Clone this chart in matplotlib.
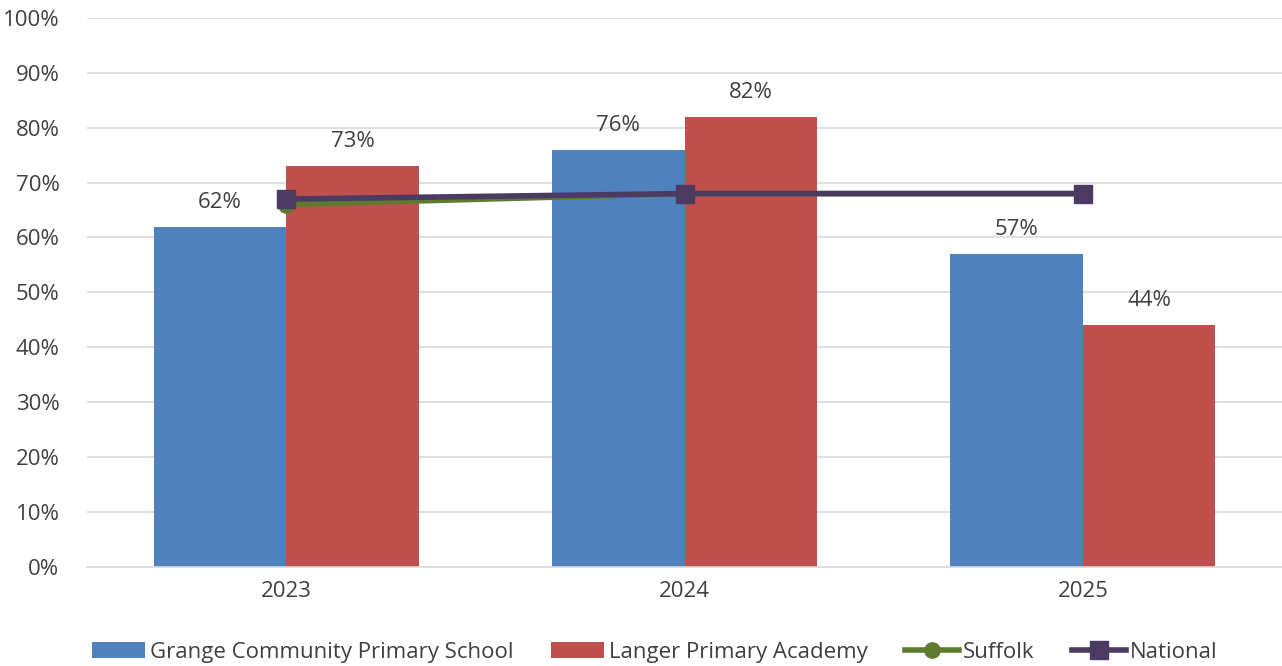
import numpy as np
import matplotlib
matplotlib.use("Agg")
import matplotlib.pyplot as plt
from matplotlib.ticker import PercentFormatter

years = ["2023", "2024", "2025"]
grange = [62, 76, 57]
langer = [73, 82, 44]
suffolk = [66, 68, 68]
national = [67, 68, 68]

plt.rcParams['font.family'] = ['Open Sans', 'DejaVu Sans']
text_col = '#404040'

fig = plt.figure(figsize=(12.82, 6.66), dpi=100)
ax = fig.add_axes([0.068, 0.149, 0.932, 0.824])

x = np.arange(len(years))
w = 0.333
b1 = ax.bar(x - w / 2, grange, w, color='#4F81BD', label='Grange Community Primary School', zorder=2)
b2 = ax.bar(x + w / 2, langer, w, color='#C0504D', label='Langer Primary Academy', zorder=2)
l1, = ax.plot(x, suffolk, color='#5E7A2E', lw=4, marker='o', ms=11, label='Suffolk', zorder=3)
l2, = ax.plot(x, national, color='#4B3A62', lw=4, marker='s', ms=13, label='National', zorder=4)

for bars, vals in [(b1, grange), (b2, langer)]:
    for bar, v in zip(bars, vals):
        ax.annotate(f"{v}%", (bar.get_x() + bar.get_width() / 2, v), xytext=(0, 10),
                    textcoords='offset points', ha='center', va='bottom',
                    fontsize=16, color=text_col)

ax.set_ylim(0, 100)
ax.set_xlim(-0.5, 2.5)
ax.set_yticks(range(0, 101, 10))
ax.yaxis.set_major_formatter(PercentFormatter(decimals=0))
ax.set_xticks(x)
ax.set_xticklabels(years)
ax.tick_params(length=0, labelsize=16, labelcolor=text_col)
ax.tick_params(axis='x', pad=10)
ax.tick_params(axis='y', pad=20)
ax.grid(axis='y', color='#D9D9D9', lw=1.2, zorder=0)
for s in ['top', 'right', 'left']:
    ax.spines[s].set_visible(False)
ax.spines['bottom'].set_color('#D9D9D9')
ax.spines['bottom'].set_linewidth(1.2)
ax.set_axisbelow(True)

leg = ax.legend([b1, b2, l1, l2], [h.get_label() for h in [b1, b2, l1, l2]],
                loc='upper center', bbox_to_anchor=(0.475, -0.1), ncol=4, frameon=False,
                fontsize=16, handlelength=2.4, handletextpad=0.2, columnspacing=1.7)
for t in leg.get_texts():
    t.set_color(text_col)

fig.savefig("out.png", dpi=100)
